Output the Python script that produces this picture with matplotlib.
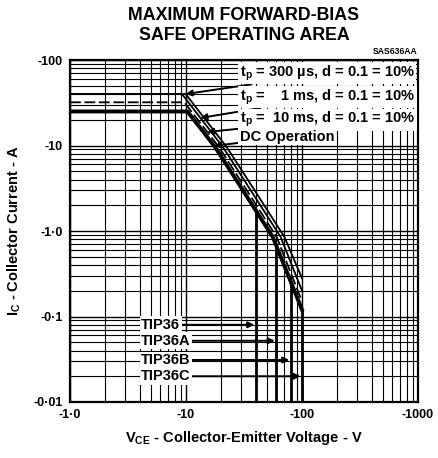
import numpy as np
import matplotlib.pyplot as plt
from matplotlib.ticker import FixedLocator, NullFormatter, LogLocator

plt.rcParams['font.family'] = ['Liberation Sans', 'DejaVu Sans']
plt.rcParams['font.weight'] = 'bold'
plt.rcParams['mathtext.fontset'] = 'custom'
plt.rcParams['mathtext.rm'] = 'Liberation Sans:bold'
plt.rcParams['mathtext.it'] = 'Liberation Sans:bold'
plt.rcParams['mathtext.bf'] = 'Liberation Sans:bold'

# SOA curves, magnitudes (plotted as |V|, |I|; labels carry the minus sign)
v_300us = [1, 9.94, 22.4, 37.8, 70.6, 100]
i_300us = [40, 40, 9.6, 3.2, 0.85, 0.28]
v_1ms = [1, 9.23, 20.8, 35.0, 65.5, 100]
i_1ms = [40, 40, 9.6, 3.2, 0.85, 0.2]
v_10ms = [1, 9.67, 19.2, 32.4, 60.5, 100]
i_10ms = [32, 32, 9.6, 3.2, 0.85, 0.15]
v_dc = [1, 10.3, 17.8, 30, 56, 100]
i_dc = [25, 25, 9.6, 3.2, 0.85, 0.12]

# V_CEO limits per device
devices = ['TIP36', 'TIP36A', 'TIP36B', 'TIP36C']
vceo = [40, 60, 80, 100]

x_ticks = [1, 10, 100, 1000]
x_labels = ['-1·0', '-10', '-100', '-1000']
y_ticks = [0.01, 0.1, 1, 10, 100]
y_labels = ['-0·01', '-0·1', '-1·0', '-10', '-100']


def v_at(vs, cs, target):
    # voltage on a curve's sloped part where current equals target
    lv = np.log10(vs[1:])
    li = np.log10(cs[1:])
    return 10 ** np.interp(-np.log10(target), -li, lv)


fig = plt.figure(figsize=(4.38, 4.58), dpi=100)
ax = fig.add_axes([70/438, 1-402/458, 348/438, 342/458])
ax.set_xscale('log')
ax.set_yscale('log')
ax.set_xlim(1, 1000)
ax.set_ylim(0.01, 100)

ax.xaxis.set_major_locator(FixedLocator(x_ticks))
ax.yaxis.set_major_locator(FixedLocator(y_ticks))
ax.set_xticklabels(x_labels, fontsize=9, fontweight='bold')
ax.set_yticklabels(y_labels, fontsize=9, fontweight='bold')
ax.xaxis.set_minor_locator(LogLocator(base=10, subs=np.arange(2, 10)))
ax.yaxis.set_minor_locator(LogLocator(base=10, subs=np.arange(2, 10)))
ax.xaxis.set_minor_formatter(NullFormatter())
ax.yaxis.set_minor_formatter(NullFormatter())
ax.tick_params(which='both', length=0, pad=5)
ax.grid(which='major', color='black', lw=1.0)
ax.grid(which='minor', color='black', lw=0.8)
for s in ax.spines.values():
    s.set_linewidth(1.6)

curves = [(v_300us, i_300us), (v_1ms, i_1ms), (v_10ms, i_10ms), (v_dc, i_dc)]
ax.plot(v_300us, i_300us, color='black', lw=1.3)
ax.plot(v_1ms, i_1ms, color='black', lw=1.3)
ax.plot(v_10ms, i_10ms, color='black', lw=1.3, ls=(0, (6, 2)))
ax.plot(v_dc, i_dc, color='black', lw=2.8)

# vertical V_CEO limits down from the DC curve
for v in vceo:
    top = np.interp(np.log10(v), np.log10(v_dc), np.log10(i_dc))
    ax.plot([v, v], [0.01, 10**top], color='black', lw=2.0)

# curve labels
labels = [r'$\mathregular{t_p}$ = 300 µs, d = 0.1 = 10%',
          r'$\mathregular{t_p}$ =    1 ms, d = 0.1 = 10%',
          r'$\mathregular{t_p}$ =  10 ms, d = 0.1 = 10%',
          'DC Operation']
lab_y = [70, 37, 20, 12.6]
tip_i = [40, 21, 14.4, 9.9]
for k, (txt, ly, ti) in enumerate(zip(labels, lab_y, tip_i)):
    vs, cs = curves[k]
    tip = (vs[1], ti) if k == 0 else (v_at(vs, cs, ti), ti)
    ax.annotate(txt, xy=tip, xytext=(29, ly), fontsize=10.5, fontweight='bold',
                va='center', ha='left',
                bbox=dict(boxstyle='square,pad=0.1', fc='white', ec='none'),
                arrowprops=dict(arrowstyle='-|>', color='black', lw=1.4,
                                mutation_scale=9, shrinkA=0, shrinkB=0))

# device labels
dev_y = [0.080, 0.052, 0.031, 0.020]
for name, v, dy in zip(devices, vceo, dev_y):
    ax.annotate(name, xy=(v * 0.97, dy), xytext=(4.1, dy), fontsize=10.5,
                fontweight='bold', va='center', ha='left',
                bbox=dict(boxstyle='square,pad=0.1', fc='white', ec='none'),
                arrowprops=dict(arrowstyle='-|>', color='black', lw=1.4,
                                mutation_scale=9, shrinkA=0, shrinkB=0))

fig.text(244/438, 1-15/458, 'MAXIMUM FORWARD-BIAS', ha='center', va='center',
         fontsize=12.8, fontweight='bold')
fig.text(244/438, 1-35/458, 'SAFE OPERATING AREA', ha='center', va='center',
         fontsize=12.8, fontweight='bold')
fig.text(418/438, 1-51/458, 'SAS636AA', ha='right', va='center',
         fontsize=6.2, fontweight='bold')

ax.set_xlabel(r'V$_\mathregular{CE}$ - Collector-Emitter Voltage - V',
              fontsize=10.5, fontweight='bold', labelpad=6)
ax.set_ylabel(r'I$_\mathregular{C}$ - Collector Current - A',
              fontsize=10.5, fontweight='bold', labelpad=8)

fig.savefig('out.png', dpi=100)
